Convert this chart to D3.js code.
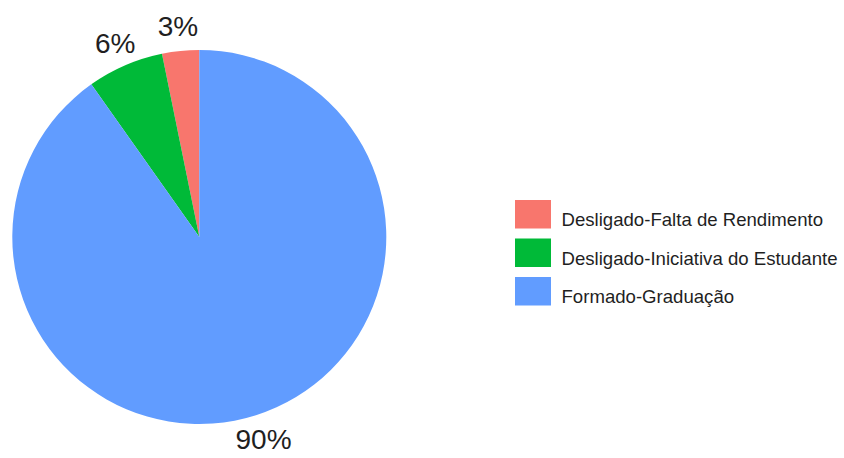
<!DOCTYPE html>
<html>

<head>
    <meta charset="UTF-8">
    <script src="https://d3js.org/d3.v7.min.js"></script>
    <style>
        body {
            margin: 0;
            background-color: #ffffff;
        }

        .slice-label {
            font-family: 'Liberation Sans', Arial, sans-serif;
            font-size: 28px;
            fill: #1f1f1f;
        }

        .legend-label {
            font-family: 'Liberation Sans', Arial, sans-serif;
            font-size: 18.6px;
            fill: #1f1f1f;
        }
    </style>
</head>

<body>
    <svg id="chart" width="844" height="458"></svg>
    <script>
        // chart data
        var categories = ["Desligado-Falta de Rendimento", "Desligado-Iniciativa do Estudante", "Formado-Graduação"];
        var shares = [3.2, 6.6, 90.2];
        var shareLabels = ["3%", "6%", "90%"];
        var colors = ["#F8766D", "#00BA38", "#619CFF"];

        var svg = d3.select("#chart");

        var cx = 199.3;
        var cy = 237;
        var radius = 187;
        var labelRadius = 212;

        var color = d3.scaleOrdinal().domain(categories).range(colors);

        // slices run counter-clockwise from 12 o'clock
        var pie = d3.pie()
            .sort(null)
            .startAngle(0)
            .endAngle(-2 * Math.PI)
            .value(function (d) { return d.value; });

        var rows = categories.map(function (c, i) {
            return { name: c, value: shares[i], label: shareLabels[i] };
        });

        var arcs = pie(rows);
        var arc = d3.arc().innerRadius(0).outerRadius(radius);
        var labelArc = d3.arc().innerRadius(labelRadius).outerRadius(labelRadius);

        var g = svg.append("g").attr("transform", "translate(" + cx + "," + cy + ")");

        g.selectAll("path")
            .data(arcs)
            .enter()
            .append("path")
            .attr("d", arc)
            .attr("fill", function (d) { return color(d.data.name); });

        g.selectAll(".slice-label")
            .data(arcs)
            .enter()
            .append("text")
            .attr("class", "slice-label")
            .attr("x", function (d) { return labelArc.centroid(d)[0]; })
            .attr("y", function (d) { return labelArc.centroid(d)[1]; })
            .attr("dy", "0.36em")
            .attr("text-anchor", "middle")
            .text(function (d) { return d.data.label; });

        // legend
        var legend = svg.append("g").attr("transform", "translate(515,200)");
        var step = 38.5;

        var item = legend.selectAll(".item")
            .data(categories)
            .enter()
            .append("g")
            .attr("class", "item")
            .attr("transform", function (d, i) { return "translate(0," + (i * step) + ")"; });

        item.append("rect")
            .attr("width", 36)
            .attr("height", 28.5)
            .attr("fill", function (d) { return color(d); });

        item.append("text")
            .attr("class", "legend-label")
            .attr("x", 46.5)
            .attr("y", 26)
            .text(function (d) { return d; });
    </script>
</body>

</html>
